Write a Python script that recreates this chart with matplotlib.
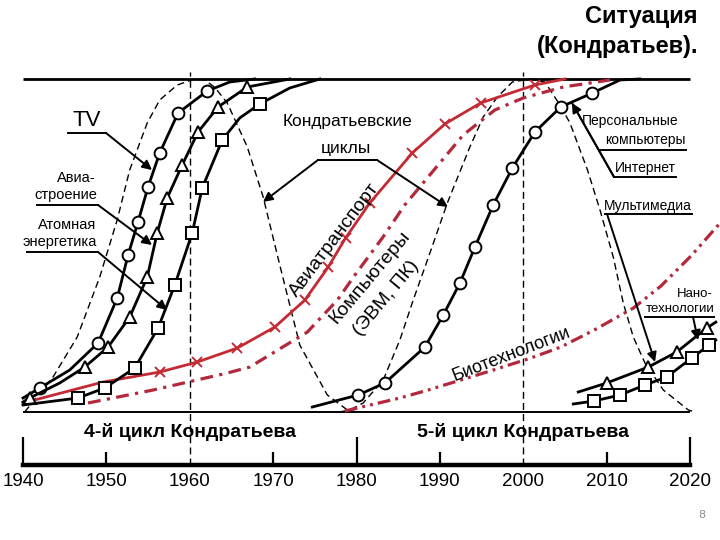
import matplotlib
matplotlib.use("Agg")
import matplotlib.pyplot as plt

# level: 0 = start of diffusion, 1 = saturation (top line)

# 4th cycle: TV (circles), aircraft building (triangles), nuclear energy (squares)
tv_years = [1940.0, 1942.0, 1945.6, 1949.0, 1951.3, 1952.6, 1953.8, 1955.0, 1956.4, 1958.6, 1962.1, 1964.8, 1967.8]
tv_level = [0.042, 0.072, 0.126, 0.207, 0.342, 0.471, 0.571, 0.676, 0.778, 0.898, 0.964, 0.991, 1.0]
tv_marks = [1, 3, 4, 5, 6, 7, 8, 9, 10]

avia_years = [1940.0, 1940.8, 1944.4, 1947.4, 1950.2, 1952.8, 1954.9, 1956.1, 1957.3, 1959.1, 1961.0, 1963.4, 1966.9, 1972.0]
avia_level = [0.030, 0.042, 0.087, 0.135, 0.195, 0.285, 0.405, 0.538, 0.643, 0.742, 0.841, 0.916, 0.976, 1.0]
avia_marks = [1, 3, 4, 5, 6, 7, 8, 9, 10, 11, 12]

atom_years = [1940.0, 1946.6, 1949.8, 1953.4, 1956.2, 1958.2, 1960.3, 1961.5, 1963.9, 1966.0, 1968.4, 1972.0, 1975.6]
atom_level = [0.021, 0.042, 0.072, 0.132, 0.252, 0.381, 0.538, 0.673, 0.817, 0.883, 0.925, 0.973, 1.0]
atom_marks = [1, 2, 3, 4, 5, 6, 7, 8, 10]

# air transport (red, crosses) and computers (red dash-dot)
air_years = [1940.0, 1949.6, 1956.4, 1960.9, 1965.7, 1970.2, 1973.8, 1976.6, 1978.7, 1981.6, 1986.7, 1990.6, 1994.9, 2001.4, 2005.0]
air_level = [0.027, 0.090, 0.120, 0.150, 0.192, 0.255, 0.336, 0.435, 0.523, 0.628, 0.778, 0.865, 0.928, 0.982, 1.0]
air_marks = list(range(2, 14))

comp_years = [1947.8, 1955.6, 1964.5, 1967.2, 1974.1, 1977.7, 1979.8, 1983.2, 1985.8, 1989.1, 1992.8, 1996.6, 2000.0, 2004.8, 2010.4]
comp_level = [0.027, 0.066, 0.117, 0.135, 0.240, 0.336, 0.411, 0.526, 0.622, 0.721, 0.832, 0.907, 0.943, 0.976, 0.997]

# 5th cycle: personal computers (circles), biotech, nano (triangles / squares)
pc_years = [1974.7, 1980.2, 1983.4, 1988.2, 1990.4, 1992.4, 1994.2, 1996.4, 1998.7, 2001.4, 2004.5, 2008.3, 2011.6, 2014.0]
pc_level = [0.015, 0.051, 0.087, 0.195, 0.291, 0.387, 0.495, 0.622, 0.733, 0.841, 0.916, 0.958, 0.997, 1.0]
pc_marks = list(range(1, 12))

bio_years = [1978.6, 1985.2, 1988.6, 1992.5, 1996.4, 2000.9, 2004.5, 2008.5, 2013.2, 2016.5, 2020.1, 2023.7]
bio_level = [0.003, 0.042, 0.066, 0.096, 0.126, 0.162, 0.195, 0.246, 0.312, 0.378, 0.468, 0.570]

nano_tri_years = [2006.6, 2010.0, 2015.0, 2018.4, 2022.0, 2023.1]
nano_tri_level = [0.060, 0.087, 0.135, 0.180, 0.252, 0.270]
nano_sq_years = [2006.0, 2008.5, 2011.6, 2014.6, 2017.2, 2020.2, 2022.3, 2023.1]
nano_sq_level = [0.024, 0.033, 0.051, 0.081, 0.105, 0.162, 0.201, 0.216]

# Kondratiev waves (dashed bells)
wave1_years = [1940.2, 1943.6, 1946.5, 1949.2, 1951.3, 1952.8, 1954.9, 1956.4, 1958.5, 1960.6, 1961.8, 1963.0, 1964.5,
               1966.9, 1968.8, 1970.8, 1973.2, 1976.5, 1978.9, 1980.1]
wave1_level = [0.0, 0.105, 0.225, 0.405, 0.577, 0.727, 0.868, 0.937, 0.982, 1.0, 0.997, 0.975, 0.928,
               0.796, 0.646, 0.441, 0.201, 0.051, 0.006, 0.0]
wave2_years = [1978.0, 1979.2, 1980.8, 1983.2, 1985.2, 1986.8, 1988.8, 1990.9, 1993.6, 1995.2, 1996.9, 1998.7, 2000.8,
               2002.6, 2004.4, 2005.6, 2007.7, 2009.2, 2010.8, 2012.0, 2013.2, 2014.6, 2016.8, 2019.8, 2020.6]
wave2_level = [0.0, 0.006, 0.027, 0.096, 0.216, 0.336, 0.477, 0.628, 0.796, 0.886, 0.946, 0.991, 1.0,
               0.991, 0.922, 0.868, 0.727, 0.607, 0.465, 0.327, 0.225, 0.147, 0.066, 0.006, 0.0]

decades = [1940, 1950, 1960, 1970, 1980, 1990, 2000, 2010, 2020]
long_ticks = [1940, 1980, 2020]
short_ticks = [1950, 1970, 1990, 2010]
cycle_marks = [1960, 2000]

SANS = ['Liberation Sans', 'DejaVu Sans']
RED = '#c42a33'
RED2 = '#b3283a'


def px(x, y):
    # picture pixel -> (year, level), used only for label / arrow placement
    return 1940 + (x - 23) / 8.3375, (412 - y) / 333


def callout(ax, lines, text_xy, underline, start, tip, size=10, head=True):
    for s, (tx, ty) in zip(lines, text_xy):
        ax.text(*px(tx, ty), s, ha='right', va='center', fontsize=size, family=SANS)
    ax.plot(*zip(px(underline[0], underline[2]), px(underline[1], underline[2])), color='black', lw=1.4)
    ax.annotate('', xy=px(*tip), xytext=px(*start),
                arrowprops=dict(arrowstyle='-|>' if head else '-', color='black', lw=1.4,
                                mutation_scale=14, shrinkA=0, shrinkB=0))


fig = plt.figure(figsize=(7.2, 5.4), dpi=100)
ax = fig.add_axes([0, 0, 1, 1])
ax.set_xlim(1937.241, 2023.598)
ax.set_ylim(-0.3844, 1.2372)

# frame lines
ax.hlines(1.0, 1940, 2020, color='black', lw=2.0)
ax.hlines(0.0, 1940, 2020, color='black', lw=1.4)
ax.vlines(cycle_marks, -0.159, 1.021, color='black', lw=1.0, linestyles=(0, (5, 3)))
ax.vlines(long_ticks, -0.159, -0.075, color='black', lw=1.6)
ax.vlines(short_ticks, -0.159, -0.120, color='black', lw=1.6)

for s in ['top', 'left', 'right']:
    ax.spines[s].set_visible(False)
ax.spines['bottom'].set_position(('data', -0.159))
ax.spines['bottom'].set_bounds(1940, 2020)
ax.spines['bottom'].set_linewidth(3.2)
ax.set_yticks([])
ax.set_xticks(decades)
ax.set_xticklabels([str(d) for d in decades], fontsize=13.5, family=SANS)
ax.tick_params(axis='x', length=0, pad=6)

# waves
ax.plot(wave1_years, wave1_level, color='black', lw=1.0, ls=(0, (5, 3)))
ax.plot(wave2_years, wave2_level, color='black', lw=1.0, ls=(0, (5, 3)))

# red curves
ax.plot(air_years, air_level, color=RED, lw=2.0, marker='x', ms=7, mew=1.4, markevery=air_marks)
ax.plot(comp_years, comp_level, color=RED2, lw=2.3, ls=(0, (4, 2, 1, 2)))
ax.plot(bio_years, bio_level, color=RED2, lw=2.3, ls=(0, (4, 1.6, 0.9, 1.6, 0.9, 1.6)))

# black curves with open markers
mk = dict(color='black', lw=2.0, mfc='white', mec='black', mew=1.4)
ax.plot(tv_years, tv_level, marker='o', ms=8.5, markevery=tv_marks, **mk)
ax.plot(avia_years, avia_level, marker='^', ms=9, markevery=avia_marks, **mk)
ax.plot(atom_years, atom_level, marker='s', ms=8, markevery=atom_marks, **mk)
ax.plot(pc_years, pc_level, marker='o', ms=8.5, markevery=pc_marks, **mk)
ax.plot(nano_tri_years, nano_tri_level, marker='^', ms=9, markevery=[1, 2, 3, 4], **mk)
ax.plot(nano_sq_years, nano_sq_level, marker='s', ms=8, markevery=[1, 2, 3, 4, 5, 6], **mk)

# callouts
ax.text(*px(87, 121), 'TV', ha='center', va='center', fontsize=16, family=SANS)
callout(ax, [], [], (68, 106, 133), (106, 133), (152, 170))
callout(ax, ['Авиа-', 'строение'], [(96, 178), (97, 195)], (37, 98, 205), (98, 205), (152, 245), size=10.5)
callout(ax, ['Атомная', 'энергетика'], [(96, 225), (97, 242)], (27, 98, 252), (98, 252), (167, 310), size=10.5)
ax.text(*px(347, 122), 'Кондратьевские', ha='center', va='center', fontsize=12.5, family=SANS)
ax.text(*px(346, 149), 'циклы', ha='center', va='center', fontsize=12.5, family=SANS)
callout(ax, [], [], (318, 377, 160), (318, 160), (263, 202))
callout(ax, [], [], (318, 377, 160), (377, 160), (448, 207))
callout(ax, ['Персональные', 'компьютеры'], [(678, 121), (686, 140)], (600, 686, 150), (614, 177), (572, 103))
callout(ax, ['Интернет'], [(676, 168)], (614, 676, 177), (614, 177), (572, 103), head=False)
callout(ax, ['Мультимедиа'], [(692, 206)], (605, 692, 214), (607, 214), (655, 362))
callout(ax, ['Нано-', 'технологии'], [(713, 294), (714, 309)], (645, 714, 317), (693, 317), (698, 340), size=9.5)

ax.text(*px(335, 240), 'Авиатранспорт', ha='center', va='center', rotation=53, fontsize=14, family=SANS)
ax.text(*px(370, 277), 'Компьютеры', ha='center', va='center', rotation=50, fontsize=14, family=SANS)
ax.text(*px(386, 298), '(ЭВМ, ПК)', ha='center', va='center', rotation=50, fontsize=14, family=SANS)
ax.text(*px(511, 354), 'Биотехнологии', ha='center', va='center', rotation=21, fontsize=13, family=SANS)

ax.text(1960, -0.060, '4-й цикл Кондратьева', ha='center', va='center', fontsize=14, fontweight='bold', family=SANS)
ax.text(2000, -0.060, '5-й цикл Кондратьева', ha='center', va='center', fontsize=14, fontweight='bold', family=SANS)

fig.text(698 / 720, 1 - 16 / 540, 'Ситуация', ha='right', va='center', fontsize=17, fontweight='bold', family=SANS)
fig.text(698 / 720, 1 - 46 / 540, '(Кондратьев).', ha='right', va='center', fontsize=17, fontweight='bold', family=SANS)
fig.text(702 / 720, 1 - 515 / 540, '8', ha='center', va='center', fontsize=8, color='#8c8c8c')

fig.savefig('out.png', dpi=100)
